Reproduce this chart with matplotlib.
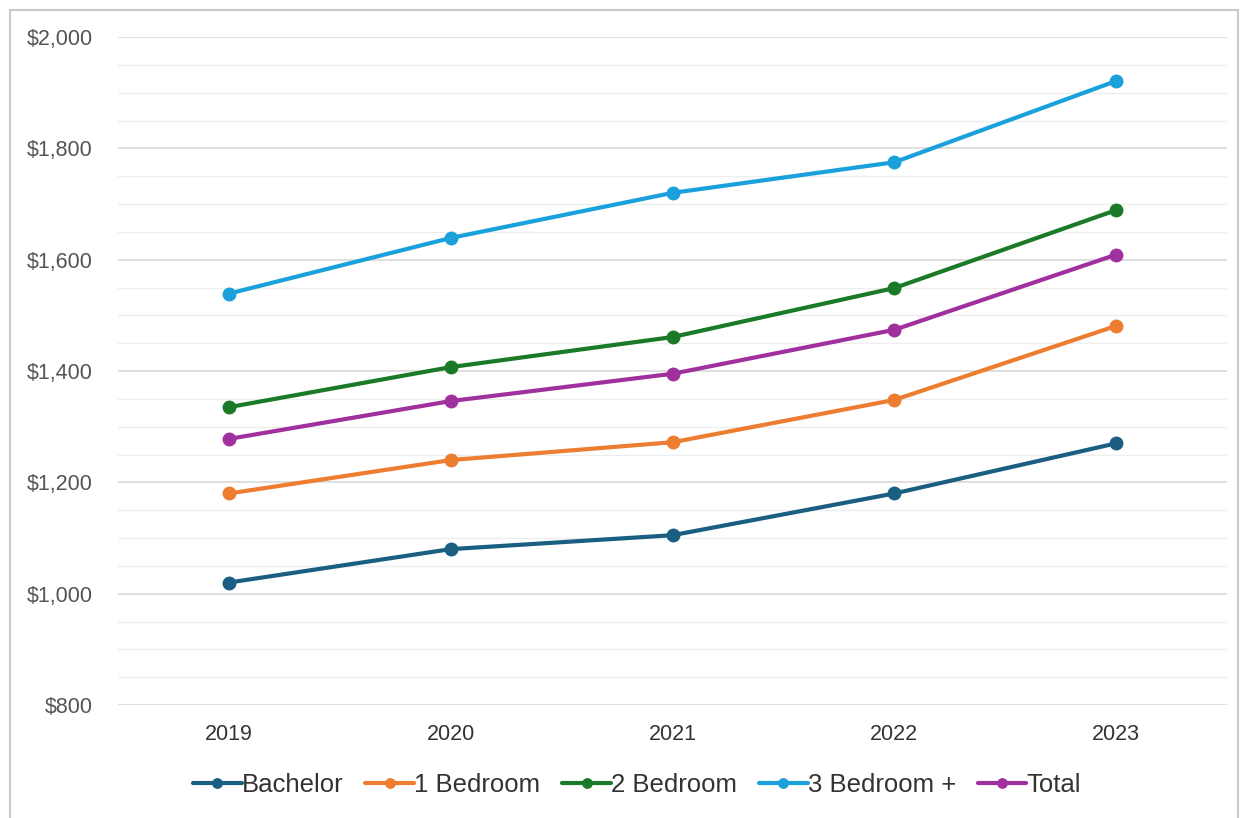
import matplotlib.pyplot as plt
from matplotlib.ticker import MultipleLocator, FuncFormatter
from matplotlib.patches import Rectangle

plt.rcParams['font.family'] = ['Liberation Sans', 'DejaVu Sans']

# data
years = ["2019", "2020", "2021", "2022", "2023"]
bachelor = [1020, 1080, 1105, 1180, 1270]
bed1 = [1180, 1240, 1272, 1348, 1481]
bed2 = [1335, 1407, 1461, 1549, 1689]
bed3 = [1539, 1639, 1720, 1775, 1921]
total = [1278, 1346, 1395, 1474, 1609]

labels = ["Bachelor", "1 Bedroom", "2 Bedroom", "3 Bedroom +", "Total"]
colors = ["#1A5E82", "#ED7D31", "#1B7A27", "#1AA1DB", "#A1309F"]

W, H = 1244, 818
fig = plt.figure(figsize=(W / 100, H / 100), dpi=100)
ax = fig.add_axes([118 / W, 1 - 705 / H, (1227 - 118) / W, (705 - 37) / H])

x = list(range(len(years)))
for series, lab, col in zip([bachelor, bed1, bed2, bed3, total], labels, colors):
    ax.plot(x, series, color=col, lw=3, marker="o", ms=9, label=lab,
            solid_capstyle="round")

ax.set_xlim(-0.5, 4.5)
ax.set_ylim(800, 2000)
ax.set_xticks(x)
ax.set_xticklabels(years)
ax.yaxis.set_major_locator(MultipleLocator(200))
ax.yaxis.set_minor_locator(MultipleLocator(50))
ax.yaxis.set_major_formatter(FuncFormatter(lambda v, p: "${:,.0f}".format(v)))
ax.grid(True, which="major", axis="y", color="#d9d9d9", lw=1.2)
ax.grid(True, which="minor", axis="y", color="#eeeeee", lw=1.0)
ax.set_axisbelow(True)
for s in ax.spines.values():
    s.set_visible(False)
ax.tick_params(axis="both", which="both", length=0)
ax.tick_params(axis="y", labelsize=15.5, labelcolor="#555555", pad=18)
ax.tick_params(axis="x", labelsize=15.5, labelcolor="#333333", pad=14)

leg = fig.legend(loc="center", bbox_to_anchor=(637 / W, 1 - 785 / H), ncol=5,
                 frameon=False, fontsize=18.5, handlelength=1.9, handletextpad=0.0,
                 columnspacing=0.85, markerscale=0.75)
for t in leg.get_texts():
    t.set_color("#333333")

# outer chart border
fig.patches.append(Rectangle((10 / W, -0.01), (1238 - 10) / W, 1 - 10 / H + 0.01,
                             transform=fig.transFigure, fill=False,
                             edgecolor="#c8c8c8", lw=1.5))

fig.savefig("out.png", dpi=100)
